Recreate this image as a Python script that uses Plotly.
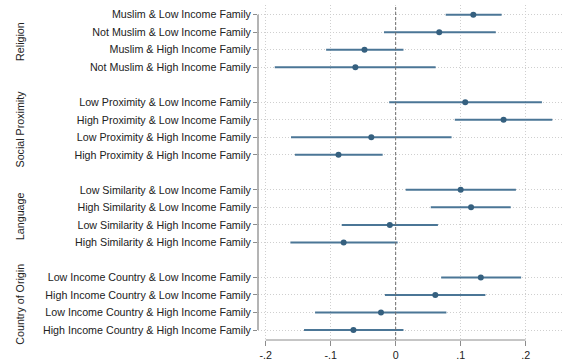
import plotly.graph_objects as go

groups = ["Religion", "Social Proximity", "Language", "Country of Origin"]
labels = [
    ["Muslim & Low Income Family", "Not Muslim & Low Income Family",
     "Muslim & High Income Family", "Not Muslim & High Income Family"],
    ["Low Proximity & Low Income Family", "High Proximity & Low Income Family",
     "Low Proximity & High Income Family", "High Proximity & High Income Family"],
    ["Low Similarity & Low Income Family", "High Similarity & Low Income Family",
     "Low Similarity & High Income Family", "High Similarity & High Income Family"],
    ["Low Income Country & Low Income Family", "High Income Country & Low Income Family",
     "Low Income Country & High Income Family", "High Income Country & High Income Family"],
]
coef = [
    [0.1195, 0.067, -0.048, -0.062],
    [0.107, 0.166, -0.0375, -0.088],
    [0.100, 0.116, -0.009, -0.080],
    [0.131, 0.061, -0.0226, -0.065],
]
ci_lo = [
    [0.077, -0.018, -0.107, -0.186],
    [-0.010, 0.091, -0.161, -0.155],
    [0.0154, 0.054, -0.083, -0.162],
    [0.070, -0.0165, -0.124, -0.141],
]
ci_hi = [
    [0.163, 0.154, 0.012, 0.0615],
    [0.225, 0.241, 0.086, -0.020],
    [0.185, 0.177, 0.065, 0.003],
    [0.193, 0.138, 0.078, 0.012],
]
x_ticks = [-0.2, -0.1, 0, 0.1, 0.2]
x_ticktext = ["-.2", "-.1", "0", ".1", ".2"]

ys, xs, el, eh, tl = [], [], [], [], []
for g in range(len(groups)):
    for i in range(len(labels[g])):
        ys.append(g * 5 + i)
        xs.append(coef[g][i])
        el.append(coef[g][i] - ci_lo[g][i])
        eh.append(ci_hi[g][i] - coef[g][i])
        tl.append(labels[g][i])

col_line = "#4b7696"
col_mark = "#35607f"
FONT = "Liberation Sans, Arial, sans-serif"
FS = 10.7

fig = go.Figure()
fig.add_trace(go.Scatter(
    x=xs, y=ys, mode="markers",
    marker=dict(color=col_mark, size=6),
    error_x=dict(type="data", symmetric=False, array=eh, arrayminus=el,
                 color=col_line, thickness=2, width=0),
    showlegend=False, hoverinfo="skip",
))

shapes = [
    dict(type="line", xref="x", yref="paper", x0=0, x1=0, y0=0, y1=1,
         line=dict(color="#6e6e6e", width=1, dash="3px,2px")),
    dict(type="line", xref="x", yref="paper", x0=x_ticks[0], x1=x_ticks[-1], y0=0, y1=0,
         line=dict(color="#8c8c8c", width=1)),
    dict(type="line", xref="paper", yref="y", x0=0, x1=0, y0=min(ys), y1=max(ys),
         line=dict(color="#8c8c8c", width=1.3)),
]

annotations = []
for g, name in enumerate(groups):
    annotations.append(dict(
        text=name, xref="paper", yref="y", x=-0.783, y=g * 5 + 1.5,
        textangle=-90, showarrow=False, xanchor="center", yanchor="middle",
        font=dict(family=FONT, size=FS, color="#222222"),
    ))

fig.update_layout(
    width=562, height=361,
    margin=dict(l=258, r=0, t=5, b=19),
    plot_bgcolor="white", paper_bgcolor="white",
    font=dict(family=FONT, size=FS, color="#222222"),
    shapes=shapes, annotations=annotations,
    xaxis=dict(range=[-0.2118, 0.2559], tickvals=x_ticks, ticktext=x_ticktext,
               showgrid=True, gridcolor="#cfcfcf", griddash="1px,2px", gridwidth=1,
               zeroline=False, showline=False, ticks="outside", ticklen=5,
               tickcolor="#8c8c8c", tickfont=dict(size=FS, color="#222222")),
    yaxis=dict(range=[18.57, -0.55], tickvals=ys, ticktext=tl,
               showgrid=True, gridcolor="#cfcfcf", griddash="1px,2px", gridwidth=1,
               zeroline=False, showline=False, ticks="outside", ticklen=4,
               tickcolor="#8c8c8c", tickfont=dict(size=FS, color="#222222")),
)

fig.write_html("out.html", config={"displayModeBar": False},
               post_script="document.body.style.margin='0';document.body.style.overflow='hidden';")
